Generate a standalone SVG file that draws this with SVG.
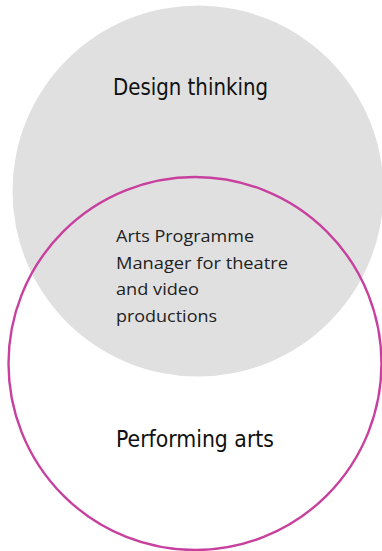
<svg xmlns="http://www.w3.org/2000/svg" width="382" height="551" viewBox="0 0 382 551">
<style>
.title{font-family:"Liberation Sans Narrow","DejaVu Sans Condensed","Liberation Sans",sans-serif;font-size:23px;fill:#111}
.body{font-family:"Open Sans","Liberation Sans",sans-serif;font-size:16.5px;fill:#222}
</style>
<rect width="382" height="551" fill="#fff"/>
<g id="design-thinking">
<circle cx="198" cy="191" r="185.5" fill="#e0e0e0"/>
<text class="title" x="113" y="95" textLength="155" lengthAdjust="spacingAndGlyphs">Design thinking</text>
</g>
<g id="performing-arts">
<circle cx="195" cy="363.5" r="186.5" fill="none" stroke="#c8409e" stroke-width="2.4"/>
<text class="title" x="116" y="447" textLength="158" lengthAdjust="spacingAndGlyphs">Performing arts</text>
</g>
<g id="overlap">
<text class="body" x="116" y="242" textLength="138" lengthAdjust="spacingAndGlyphs">Arts Programme</text>
<text class="body" x="116" y="269" textLength="172" lengthAdjust="spacingAndGlyphs">Manager for theatre</text>
<text class="body" x="116" y="295" textLength="83" lengthAdjust="spacingAndGlyphs">and video</text>
<text class="body" x="116" y="322" textLength="101" lengthAdjust="spacingAndGlyphs">productions</text>
</g>
<g id="connectors"/>
</svg>
